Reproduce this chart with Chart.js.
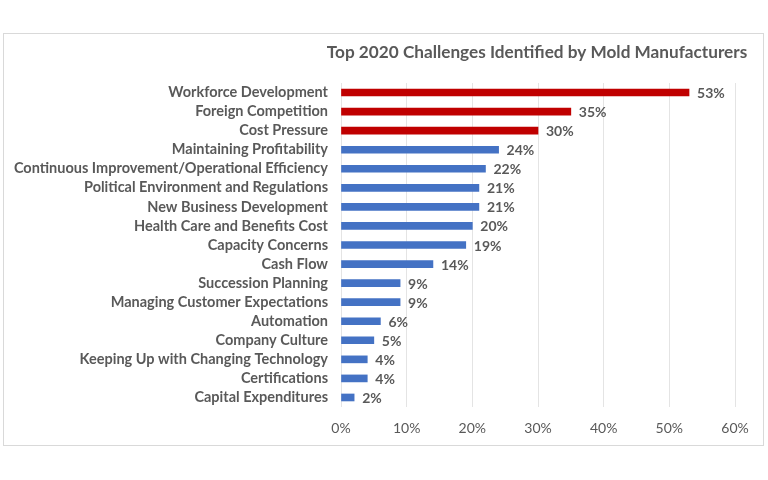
<!DOCTYPE html>
<html>
<head>
<meta charset="utf-8">
<script src="https://cdn.jsdelivr.net/npm/chart.js@4"></script>
<style>
  body { margin: 0; background: #fff; }
  #box {
    position: absolute; left: 3px; top: 33px;
    width: 759px; height: 411px;
    border: 1px solid #d9d9d9;
  }
</style>
</head>
<body>
<div id="box"><canvas id="myChart" width="759" height="411"></canvas></div>
<script>
const challenges = [
  'Workforce Development', 'Foreign Competition', 'Cost Pressure',
  'Maintaining Profitability', 'Continuous Improvement/Operational Efficiency',
  'Political Environment and Regulations', 'New Business Development',
  'Health Care and Benefits Cost', 'Capacity Concerns', 'Cash Flow',
  'Succession Planning', 'Managing Customer Expectations', 'Automation',
  'Company Culture', 'Keeping Up with Changing Technology', 'Certifications',
  'Capital Expenditures'
];
const percents = [53, 35, 30, 24, 22, 21, 21, 20, 19, 14, 9, 9, 6, 5, 4, 4, 2];
const xTicks = [0, 10, 20, 30, 40, 50, 60];
const topCount = 3; // first three drawn in red

const gray = '#595959';
const fontFam = 'Lato, "Open Sans", sans-serif';

const barColors = percents.map((v, i) => i < topCount ? '#c00000' : '#4472c4');

// value labels at the end of each bar
const valueLabels = {
  id: 'valueLabels',
  afterDatasetsDraw(chart) {
    const c = chart.ctx;
    const meta = chart.getDatasetMeta(0);
    c.save();
    c.font = 'bold 14px ' + fontFam;
    c.fillStyle = gray;
    c.textBaseline = 'middle';
    c.textAlign = 'left';
    meta.data.forEach((bar, i) => {
      c.fillText(percents[i] + '%', bar.x + 8, bar.y + 1);
    });
    c.restore();
  }
};

// title centred over the plot area
const plotTitle = {
  id: 'plotTitle',
  afterDraw(chart) {
    const c = chart.ctx;
    const a = chart.chartArea;
    c.save();
    c.font = 'bold 17.2px ' + fontFam;
    c.fillStyle = gray;
    c.textAlign = 'center';
    c.textBaseline = 'middle';
    c.fillText('Top 2020 Challenges Identified by Mold Manufacturers', (a.left + a.right) / 2 - 1, 18);
    c.restore();
  }
};

const ctx = document.getElementById('myChart').getContext('2d');
new Chart(ctx, {
  type: 'bar',
  data: {
    labels: challenges,
    datasets: [{
      data: percents,
      backgroundColor: barColors,
      barThickness: 7,
    }]
  },
  options: {
    indexAxis: 'y',
    responsive: false,
    animation: false,
    layout: { padding: { top: 49, right: 28, bottom: 8, left: 0 } },
    scales: {
      x: {
        min: 0,
        max: 60,
        afterBuildTicks: (scale) => { scale.ticks = xTicks.map(v => ({ value: v })); },
        afterFit: (scale) => { scale.height = 30; },
        ticks: {
          color: gray,
          padding: 13,
          font: { family: fontFam, size: 14 },
          callback: (v) => v + '%',
        },
        grid: { color: '#e4e4e4', drawTicks: false },
        border: { display: false },
      },
      y: {
        afterFit: (scale) => { scale.width = 337; },
        ticks: {
          color: gray,
          padding: 13,
          autoSkip: false,
          font: { family: fontFam, size: 14.5, weight: 'bold' },
        },
        grid: { display: false, drawTicks: false },
        border: { display: false },
      }
    },
    plugins: {
      legend: { display: false },
      tooltip: { enabled: false },
      title: { display: false },
    }
  },
  plugins: [valueLabels, plotTitle]
});
</script>
</body>
</html>
